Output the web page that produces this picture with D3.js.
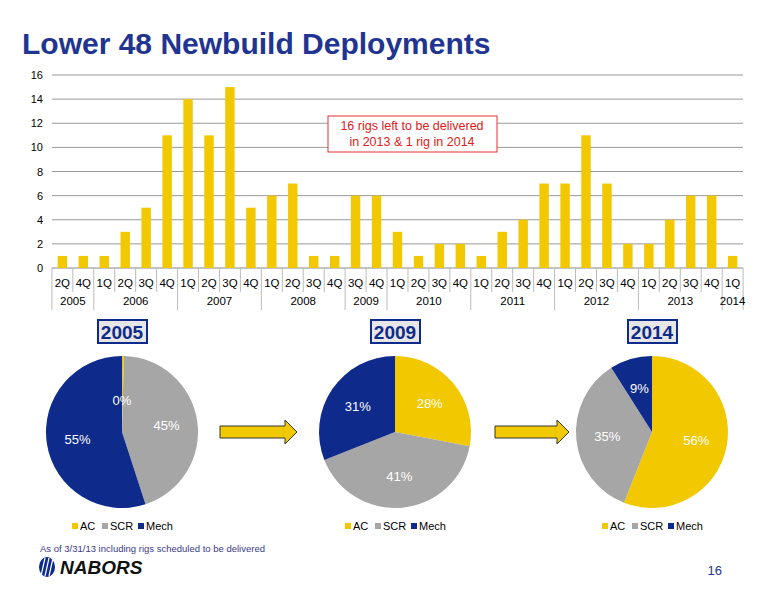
<!DOCTYPE html>
<html><head><meta charset="utf-8">
<script src="https://cdn.jsdelivr.net/npm/d3@7"></script>
<style>body{margin:0;background:#fff;font-family:Arial,"Liberation Sans",sans-serif}</style>
</head><body><svg id="c" width="776" height="600"></svg>
<script>
const quarters = ['2Q','4Q','1Q','2Q','3Q','4Q','1Q','2Q','3Q','4Q','1Q','2Q','3Q','4Q','3Q','4Q','1Q','2Q','3Q','4Q','1Q','2Q','3Q','4Q','1Q','2Q','3Q','4Q','1Q','2Q','3Q','4Q','1Q'];
const deployments = [1,1,1,3,5,11,14,11,15,5,6,7,1,1,6,6,3,1,2,2,1,3,4,7,7,11,7,2,2,4,6,6,1];
const years = ['2005','2006','2007','2008','2009','2010','2011','2012','2013','2014'];
const quartersPerYear = [2,4,4,4,2,4,4,4,4,1];
const yTicks = [0,2,4,6,8,10,12,14,16];
const rigTypes = ['AC','SCR','Mech'];
const pieYears = ['2005','2009','2014'];
const pieShares = [[0.4,44.6,55],[28,41,31],[56,35,9]];

const svg = d3.select('#c');
const blue = '#1f3591', yellow = '#f2c800', gray = '#a6a6a6', navy = '#0e2a8a';

svg.append('text').attr('x',22).attr('y',54).attr('fill',blue)
  .attr('font-size',30).attr('font-weight','bold').text('Lower 48 Newbuild Deployments');

// bar chart
const L = 52, R = 743, T = 75, B = 268;
const x = d3.scaleBand().domain(d3.range(quarters.length)).range([L,R]).paddingInner(0.55).paddingOuter(0.27);
const y = d3.scaleLinear().domain([0,16]).range([B,T]);
const step = x.step();
const edge = i => L + (R-L-step*quarters.length)/2 + i*step;

svg.append('g').selectAll('line').data(yTicks).join('line')
  .attr('x1',L).attr('x2',R).attr('y1',d=>y(d)).attr('y2',d=>y(d))
  .attr('stroke',d=>d===0?'#888':'#999').attr('stroke-width',1);
svg.append('g').selectAll('text').data(yTicks).join('text')
  .attr('x',L-9).attr('y',d=>y(d)+4).attr('text-anchor','end').attr('font-size',11).text(d=>d);

svg.append('g').selectAll('rect').data(deployments).join('rect')
  .attr('x',(d,i)=>x(i)).attr('width',x.bandwidth())
  .attr('y',d=>y(d)).attr('height',d=>B-y(d)).attr('fill',yellow);

svg.append('g').selectAll('text').data(quarters).join('text')
  .attr('x',(d,i)=>x(i)+x.bandwidth()/2).attr('y',B+19).attr('text-anchor','middle')
  .attr('font-size',11.5).text(d=>d);
svg.append('g').selectAll('line').data(d3.range(quarters.length+1)).join('line')
  .attr('x1',edge).attr('x2',edge).attr('y1',B).attr('y2',B+24).attr('stroke','#bbb');

let cum = 0;
const yearPos = quartersPerYear.map(n => { const s = cum; cum += n; return [s, cum]; });
svg.append('g').selectAll('line').data(yearPos).join('line')
  .attr('x1',d=>edge(d[0])).attr('x2',d=>edge(d[0])).attr('y1',B+24).attr('y2',B+42).attr('stroke','#bbb');
svg.append('line').attr('x1',edge(quarters.length)).attr('x2',edge(quarters.length))
  .attr('y1',B+24).attr('y2',B+42).attr('stroke','#bbb');
svg.append('g').selectAll('text').data(yearPos).join('text')
  .attr('x',d=>(edge(d[0])+edge(d[1]))/2).attr('y',B+37).attr('text-anchor','middle')
  .attr('font-size',11.5).text((d,i)=>years[i]);

svg.append('rect').attr('x',328).attr('y',116).attr('width',169).attr('height',36)
  .attr('fill','#fff').attr('stroke','#e53030');
svg.append('text').attr('x',412).attr('y',130).attr('text-anchor','middle').attr('fill','#e02020')
  .attr('font-size',12.5).text('16 rigs left to be delivered');
svg.append('text').attr('x',412).attr('y',146).attr('text-anchor','middle').attr('fill','#e02020')
  .attr('font-size',12.5).text('in 2013 & 1 rig in 2014');

// pies
const colors = d3.scaleOrdinal().domain(rigTypes).range([yellow,gray,navy]);
const centers = [122,395,652];
const pie = d3.pie().sort(null).value(d=>d.v);
const arc = d3.arc().innerRadius(0).outerRadius(76);
const lab = d3.arc().innerRadius(45).outerRadius(45);
pieYears.forEach((yr,k)=>{
  const cx = centers[k], cy = 432;
  const g = svg.append('g').attr('transform',`translate(${cx},${cy})`);
  const arcs = pie(rigTypes.map((t,i)=>({t, v: pieShares[k][i]})));
  g.selectAll('path').data(arcs).join('path').attr('d',arc).attr('fill',d=>colors(d.data.t));
  g.selectAll('text').data(arcs).join('text')
    .attr('transform',d=>{ let c = lab.centroid(d); if (d.data.v<2) c=[0,-32]; return `translate(${c})`; })
    .attr('text-anchor','middle').attr('dy','0.35em').attr('fill','#fff').attr('font-size',13)
    .text(d=>Math.round(d.data.v)+'%');
  svg.append('rect').attr('x',cx-24).attr('y',320).attr('width',49).attr('height',23)
    .attr('fill','#e6e6e6').attr('stroke',navy).attr('stroke-width',2);
  svg.append('text').attr('x',cx).attr('y',339).attr('text-anchor','middle').attr('fill',navy)
    .attr('font-size',19).attr('font-weight','bold').text(yr);
  const lg = svg.append('g').attr('transform',`translate(${cx-50},530)`);
  const offs = [0,30,66];
  rigTypes.forEach((t,i)=>{
    lg.append('rect').attr('x',offs[i]).attr('y',-7).attr('width',6).attr('height',6).attr('fill',colors(t));
    lg.append('text').attr('x',offs[i]+8).attr('y',0).attr('font-size',11).text(t);
  });
});

// arrows
[[220,297],[495,569]].forEach(([a,b])=>{
  const cy = 432;
  svg.append('path').attr('d',`M${a},${cy-6}H${b-12}V${cy-12}L${b},${cy}L${b-12},${cy+12}V${cy+6}H${a}Z`)
    .attr('fill',yellow).attr('stroke','#333').attr('stroke-width',1);
});

svg.append('text').attr('x',40).attr('y',552).attr('fill','#3a3a8a').attr('font-size',9.5)
  .text('As of 3/31/13 including rigs scheduled to be delivered');
const logo = svg.append('g').attr('transform','translate(47,567)');
logo.append('ellipse').attr('rx',8).attr('ry',10).attr('fill',navy);
[-4,0,4].forEach(o=>logo.append('line').attr('x1',o-2).attr('x2',o+2).attr('y1',9).attr('y2',-9).attr('stroke','#fff').attr('stroke-width',1.2));
svg.append('text').attr('x',60).attr('y',574).attr('font-size',19).attr('font-weight','bold')
  .attr('font-style','italic').attr('fill','#111').text('NABORS');
svg.append('text').attr('x',722).attr('y',575).attr('text-anchor','end').attr('fill',blue)
  .attr('font-size',13).text('16');
</script></body></html>
